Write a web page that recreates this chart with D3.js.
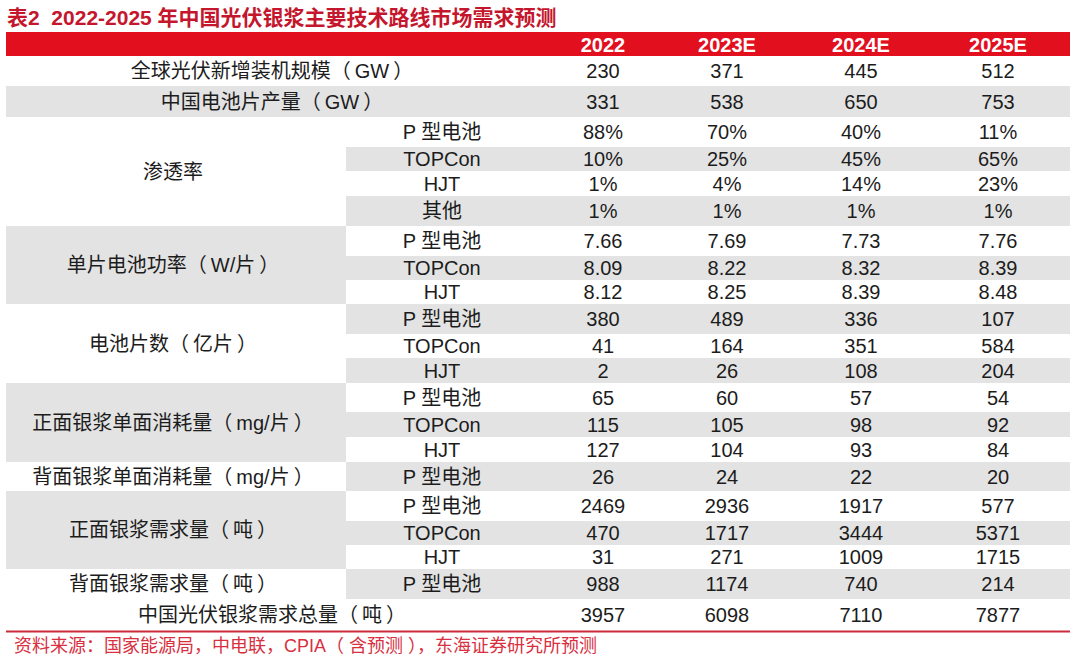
<!DOCTYPE html>
<html>
<head>
<meta charset="utf-8">
<script src="https://cdn.jsdelivr.net/npm/d3@7"></script>
<style>
  body { margin: 0; background: #fff; }
  text { font-family: "Liberation Sans", "Noto Sans CJK SC", sans-serif; white-space: pre; }
</style>
</head>
<body>
<svg id="chart" width="1080" height="661"></svg>
<script>
// ---------------- data ----------------
const titleText = "表2  2022-2025 年中国光伏银浆主要技术路线市场需求预测";
const sourceText = "资料来源：国家能源局，中电联，CPIA（ 含预测 ），东海证券研究所预测";
const years = ["2022", "2023E", "2024E", "2025E"];
const groupLabels = [
  "全球光伏新增装机规模（\u2009GW\u2009）",
  "中国电池片产量（\u2009GW\u2009）",
  "渗透率",
  "单片电池功率（\u2009W/片\u2009）",
  "电池片数（\u2009亿片\u2009）",
  "正面银浆单面消耗量（\u2009mg/片\u2009）",
  "背面银浆单面消耗量（\u2009mg/片\u2009）",
  "正面银浆需求量（\u2009吨\u2009）",
  "背面银浆需求量（\u2009吨\u2009）",
  "中国光伏银浆需求总量（\u2009吨\u2009）"
];
const techLabels = ["P 型电池", "TOPCon", "HJT", "其他"];

const globalInstallGW = [230, 371, 445, 512];
const chinaCellGW = [331, 538, 650, 753];
const penetrationP = [88, 70, 40, 11];
const penetrationTOPCon = [10, 25, 45, 65];
const penetrationHJT = [1, 4, 14, 23];
const penetrationOther = [1, 1, 1, 1];
const powerP = [7.66, 7.69, 7.73, 7.76];
const powerTOPCon = [8.09, 8.22, 8.32, 8.39];
const powerHJT = [8.12, 8.25, 8.39, 8.48];
const cellsP = [380, 489, 336, 107];
const cellsTOPCon = [41, 164, 351, 584];
const cellsHJT = [2, 26, 108, 204];
const frontUseP = [65, 60, 57, 54];
const frontUseTOPCon = [115, 105, 98, 92];
const frontUseHJT = [127, 104, 93, 84];
const backUseP = [26, 24, 22, 20];
const frontDemandP = [2469, 2936, 1917, 577];
const frontDemandTOPCon = [470, 1717, 3444, 5371];
const frontDemandHJT = [31, 271, 1009, 1715];
const backDemandP = [988, 1174, 740, 214];
const totalDemand = [3957, 6098, 7110, 7877];

// ---------------- formats ----------------
const fInt = d3.format("d");
const fPct = d => d + "%";
const fDec = d3.format(".2f");

// table structure built from the arrays above
const groups = [
  { label: 0, merged: true, rows: [[null, globalInstallGW, fInt]] },
  { label: 1, merged: true, rows: [[null, chinaCellGW, fInt]] },
  { label: 2, rows: [[0, penetrationP, fPct], [1, penetrationTOPCon, fPct], [2, penetrationHJT, fPct], [3, penetrationOther, fPct]] },
  { label: 3, rows: [[0, powerP, fDec], [1, powerTOPCon, fDec], [2, powerHJT, fDec]] },
  { label: 4, rows: [[0, cellsP, fInt], [1, cellsTOPCon, fInt], [2, cellsHJT, fInt]] },
  { label: 5, rows: [[0, frontUseP, fInt], [1, frontUseTOPCon, fInt], [2, frontUseHJT, fInt]] },
  { label: 6, rows: [[0, backUseP, fInt]] },
  { label: 7, rows: [[0, frontDemandP, fInt], [1, frontDemandTOPCon, fInt], [2, frontDemandHJT, fInt]] },
  { label: 8, rows: [[0, backDemandP, fInt]] },
  { label: 9, merged: true, rows: [[null, totalDemand, fInt]] }
];

// ---------------- layout ----------------
const rowHeights = [30, 31, 30, 24, 25, 30, 30, 24, 24, 30, 24, 25, 29, 25, 25, 29, 30, 24, 24, 30, 31];
const tableLeft = 6, tableRight = 1070, subLeft = 346;
const headerTop = 32, headerBottom = 56;
const groupLabelX = 173, subLabelX = 442, mergedLabelX = 272;
const gray = "#e3e3e3", red = "#e2101f";

const x = d3.scaleOrdinal().domain(years).range([603, 727, 861, 998]);

const flatRows = [];
groups.forEach((g, gi) => g.rows.forEach((r, ri) => flatRows.push({ g, gi, ri, sub: r[0], values: r[1], fmt: r[2] })));
const cum = [0].concat(Array.from(d3.cumsum(rowHeights)));
flatRows.forEach((r, i) => { r.i = i; r.y0 = headerBottom + cum[i]; r.y1 = headerBottom + cum[i + 1]; r.yc = (r.y0 + r.y1) / 2; });

const svg = d3.select("#chart");

// title
svg.append("text").attr("x", 7).attr("y", 17).attr("dominant-baseline", "central")
  .attr("font-size", 21).attr("font-weight", "bold").attr("fill", "#c4172e").text(titleText);

// header bar
svg.append("rect").attr("x", tableLeft).attr("y", headerTop).attr("width", tableRight - tableLeft)
  .attr("height", headerBottom - headerTop).attr("fill", red);
svg.selectAll("text.hdr").data(years).join("text").attr("class", "hdr")
  .attr("x", d => x(d)).attr("y", (headerTop + headerBottom) / 2 + 1).attr("text-anchor", "middle")
  .attr("dominant-baseline", "central").attr("font-size", 20).attr("font-weight", "bold").attr("fill", "#fff")
  .text(d => d);

// backgrounds
const bg = svg.append("g");
flatRows.forEach(r => {
  if (r.i % 2 !== 1) return;
  const left = r.g.merged ? tableLeft : subLeft;
  bg.append("rect").attr("x", left).attr("y", r.y0).attr("width", tableRight - left)
    .attr("height", r.y1 - r.y0).attr("fill", gray);
});
groups.forEach((g, gi) => {
  if (g.merged || gi % 2 === 0) return;
  const rs = flatRows.filter(r => r.gi === gi);
  bg.append("rect").attr("x", tableLeft).attr("y", rs[0].y0).attr("width", subLeft - tableLeft)
    .attr("height", rs[rs.length - 1].y1 - rs[0].y0).attr("fill", gray);
});

// group labels
const textColor = "#1c1c1c";
groups.forEach((g, gi) => {
  const rs = flatRows.filter(r => r.gi === gi);
  const yc = (rs[0].y0 + rs[rs.length - 1].y1) / 2;
  svg.append("text").attr("x", g.merged ? mergedLabelX : groupLabelX).attr("y", yc)
    .attr("text-anchor", "middle").attr("dominant-baseline", "central")
    .attr("font-size", 20).attr("fill", textColor).text(groupLabels[g.label]);
});

// sub labels and values
flatRows.forEach(r => {
  if (r.sub !== null) {
    svg.append("text").attr("x", subLabelX).attr("y", r.yc).attr("text-anchor", "middle")
      .attr("dominant-baseline", "central").attr("font-size", 20).attr("fill", textColor).text(techLabels[r.sub]);
  }
  svg.selectAll(null).data(r.values).join("text")
    .attr("x", (d, k) => x(years[k])).attr("y", r.yc).attr("text-anchor", "middle")
    .attr("dominant-baseline", "central").attr("font-size", 20).attr("fill", textColor)
    .text(d => r.fmt(d));
});

// bottom rule and source
const lastY = flatRows[flatRows.length - 1].y1;
svg.append("line").attr("x1", tableLeft).attr("x2", tableRight).attr("y1", lastY + 1.5).attr("y2", lastY + 1.5)
  .attr("stroke", "#cc2a3d").attr("stroke-width", 2);
svg.append("text").attr("x", 14).attr("y", lastY + 16).attr("dominant-baseline", "central")
  .attr("font-size", 18).attr("fill", "#d8303f").text(sourceText);
</script>
</body>
</html>
